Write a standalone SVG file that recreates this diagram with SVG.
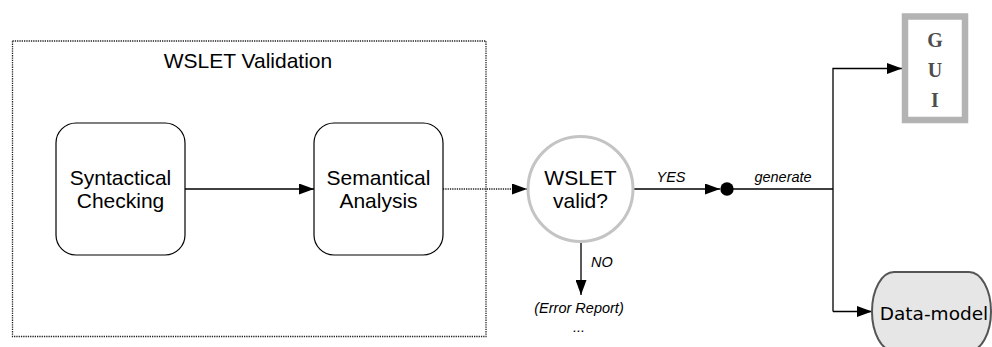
<svg xmlns="http://www.w3.org/2000/svg" width="992" height="347" viewBox="0 0 992 347">
<defs>
<style>
.lbl{font-family:"Liberation Sans",Arial,sans-serif;font-size:21px;fill:#000;text-anchor:middle}
.it{font-family:"Liberation Sans",Arial,sans-serif;font-size:14.5px;font-style:italic;fill:#000}
.edge{fill:none;stroke:#000;stroke-width:1.3}
.dot{fill:none;stroke:#222;stroke-width:1.3;stroke-dasharray:1.3 1}
.box{fill:#fff;stroke:#000;stroke-width:1.2}
</style>
<marker id="ah" viewBox="0 0 15 11" refX="15" refY="5.5" markerWidth="15" markerHeight="11" markerUnits="userSpaceOnUse" orient="auto">
<path d="M0,0 L15,5.5 L0,11 Z" fill="#000"/>
</marker>
</defs>
<rect width="992" height="347" fill="#fff"/>
<g id="container">
<rect x="12.5" y="41" width="473.5" height="295.5" class="dot"/>
<text x="248" y="68" class="lbl">WSLET Validation</text>
</g>
<g id="connectors">
<line x1="185" y1="189" x2="314" y2="189" class="edge" marker-end="url(#ah)"/>
<line x1="443" y1="189" x2="527" y2="189" class="dot" marker-end="url(#ah)"/>
<line x1="633" y1="189" x2="720" y2="189" class="edge" marker-end="url(#ah)"/>
<text x="671" y="182" class="it" text-anchor="middle">YES</text>
<line x1="727" y1="189" x2="833" y2="189" class="edge"/>
<text x="783" y="182" class="it" text-anchor="middle">generate</text>
<line x1="581" y1="243" x2="581" y2="295" class="edge" marker-end="url(#ah)"/>
<text x="591" y="267" class="it">NO</text>
<polyline points="833,311.5 833,68.5 902,68.5" class="edge" marker-end="url(#ah)"/>
<line x1="833" y1="311.5" x2="872" y2="311.5" class="edge" marker-end="url(#ah)"/>
</g>
<g id="syntactical">
<rect x="56" y="123" width="129" height="132" rx="20" class="box"/>
<text x="120.5" y="185" class="lbl">Syntactical</text>
<text x="120.5" y="208" class="lbl">Checking</text>
</g>
<g id="semantical">
<rect x="314" y="123" width="129" height="132" rx="20" class="box"/>
<text x="378.5" y="185" class="lbl">Semantical</text>
<text x="378.5" y="208" class="lbl">Analysis</text>
</g>
<g id="decision">
<circle cx="580.5" cy="189" r="52.5" fill="#fff" stroke="#c4c4c4" stroke-width="3"/>
<text x="580.5" y="185" class="lbl">WSLET</text>
<text x="580.5" y="208" class="lbl">valid?</text>
</g>
<g id="junction">
<circle cx="727" cy="189" r="6.7" fill="#000"/>
</g>
<g id="error">
<text x="579" y="313" class="it" text-anchor="middle">(Error Report)</text>
<text x="579" y="332" class="it" text-anchor="middle">...</text>
</g>
<g id="gui">
<rect x="905" y="16.5" width="60" height="103.5" fill="#fff" stroke="#b3b3b3" stroke-width="6.5"/>
<g font-family="'Liberation Serif','Times New Roman',serif" font-size="20" font-weight="bold" fill="#4d4d4d" text-anchor="middle">
<text x="935" y="46.5">G</text>
<text x="935" y="76.5">U</text>
<text x="935" y="106.5">I</text>
</g>
</g>
<g id="datamodel">
<rect x="872" y="272" width="119" height="79" rx="22" ry="39.5" fill="#e6e6e6" stroke="#555" stroke-width="2"/>
<text x="934" y="320" font-family="'DejaVu Sans',Verdana,sans-serif" font-size="18.5" fill="#000" text-anchor="middle">Data-model</text>
</g>
</svg>
